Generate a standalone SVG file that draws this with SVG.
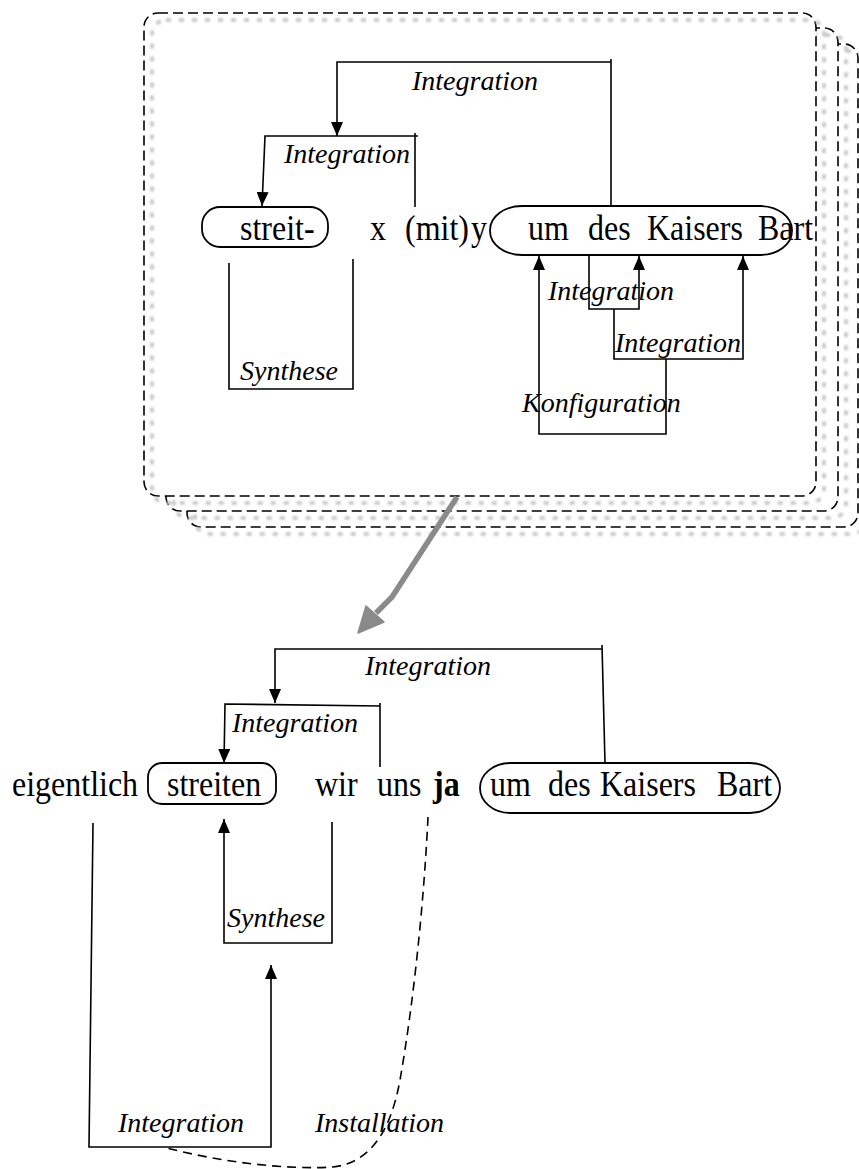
<svg xmlns="http://www.w3.org/2000/svg" width="859" height="1169" viewBox="0 0 859 1169">
<defs>
<style>
.frame{fill:#fff;stroke:#000;stroke-width:1.6;stroke-dasharray:10,5}
.shadow{fill:none;stroke:#c4c4c4;stroke-width:3.5;stroke-dasharray:5,8;filter:url(#blur)}
.ln{fill:none;stroke:#000;stroke-width:1.6}
.arr{marker-end:url(#ah)}
.box{fill:none;stroke:#000;stroke-width:1.8}
.w{font-family:"Liberation Serif","Times New Roman",serif;font-size:32px;fill:#000}
.lab{font-family:"Liberation Serif","Times New Roman",serif;font-style:italic;font-size:28px;fill:#000}
.dash{fill:none;stroke:#000;stroke-width:1.6;stroke-dasharray:9,6}
</style>
<filter id="blur" x="-5%" y="-5%" width="110%" height="110%"><feGaussianBlur stdDeviation="0.9"/></filter>
<marker id="ah" viewBox="0 0 14 12" refX="14" refY="6" markerWidth="14" markerHeight="12" markerUnits="userSpaceOnUse" orient="auto">
<path d="M0,0 L14,6 L0,12 z" fill="#000"/>
</marker>
</defs>

<g id="stack">
<rect class="frame" x="187" y="44" width="671" height="483" rx="14"/>
<rect class="shadow" x="195" y="51" width="671" height="483" rx="14"/>
<rect class="frame" x="166" y="28" width="672" height="483" rx="14"/>
<rect class="shadow" x="174" y="35" width="672" height="483" rx="14"/>
<rect class="frame" x="144" y="13" width="672" height="483" rx="14"/>
<rect class="shadow" x="152" y="20" width="672" height="483" rx="14"/>
</g>

<g id="top-row">
<g id="n-streit"><rect class="box" x="202" y="207" width="126" height="40" rx="18"/><text class="w" x="240" y="240" transform="matrix(1,0,0,1.15,0,-36)">streit-</text></g>
<g id="n-x"><text class="w" x="370" y="240" transform="matrix(1,0,0,1.15,0,-36)">x</text></g>
<g id="n-mit"><text class="w" x="405" y="240" transform="matrix(1,0,0,1.15,0,-36)">(mit)</text><text class="w" x="471" y="240" transform="matrix(1,0,0,1.15,0,-36)">y</text></g>
<g id="n-um-top"><rect class="box" x="490" y="206" width="302" height="49" rx="32" ry="24"/>
<text class="w" x="528" y="240" transform="matrix(1,0,0,1.15,0,-36)">um</text><text class="w" x="588" y="240" transform="matrix(1,0,0,1.15,0,-36)">des</text><text class="w" x="647" y="240" transform="matrix(1,0,0,1.15,0,-36)">Kaisers</text><text class="w" x="758" y="240" transform="matrix(1,0,0,1.15,0,-36)">Bart</text></g>
</g>

<g id="connectors">
<path class="ln" d="M611,207 V59"/>
<path class="ln arr" d="M611,62 H337 V136"/>
<path class="ln" d="M415,207 V133"/>
<path class="ln arr" d="M418,136 H265 L262,206"/>
<path class="ln" d="M229,263 V389 H353 V259"/>
<path class="ln arr" d="M589,255 V309 H639 V256"/>
<path class="ln arr" d="M614,309 V359 H743 V256"/>
<path class="ln arr" d="M666,359 V434 H539 V256"/>

<path d="M457,497 L392,597 L376,613" fill="none" stroke="#8a8a8a" stroke-width="5.5"/>
<path d="M358,633 L366,606 L384,622 z" fill="#8a8a8a" stroke="#8a8a8a" stroke-width="1.5" stroke-linejoin="round"/>

<path class="ln" d="M605,763 L602,645"/>
<path class="ln arr" d="M602,649 H275 V703"/>
<path class="ln" d="M380,767 V703"/>
<path class="ln arr" d="M380,706 L225,704 L224,763"/>
<path class="ln arr" d="M332,822 V943 H224 V819"/>
<path class="ln arr" d="M93,823 L89,1147 H271 V965"/>
<path class="dash" d="M428,817 C424,900 414,1000 400,1080 C390,1135 368,1163 333,1167 C285,1170 220,1162 163,1147"/>
</g>

<g id="labels">
<text class="lab" x="412" y="90">Integration</text>
<text class="lab" x="284" y="163">Integration</text>
<text class="lab" x="240" y="380">Synthese</text>
<text class="lab" x="548" y="300">Integration</text>
<text class="lab" x="615" y="352">Integration</text>
<text class="lab" x="522" y="412">Konfiguration</text>
<text class="lab" x="365" y="675">Integration</text>
<text class="lab" x="232" y="732">Integration</text>
<text class="lab" x="227" y="927">Synthese</text>
<text class="lab" x="118" y="1132">Integration</text>
<text class="lab" x="315" y="1132">Installation</text>
</g>

<g id="bottom-row">
<g id="n-eigentlich"><text class="w" x="12" y="796" transform="matrix(1,0,0,1.15,0,-119.4)">eigentlich</text></g>
<g id="n-streiten"><rect class="box" x="148" y="763" width="128" height="41" rx="14"/><text class="w" x="167" y="796" transform="matrix(1,0,0,1.15,0,-119.4)">streiten</text></g>
<g id="n-wir"><text class="w" x="315" y="796" transform="matrix(1,0,0,1.15,0,-119.4)">wir</text></g>
<g id="n-uns"><text class="w" x="377" y="796" transform="matrix(1,0,0,1.15,0,-119.4)">uns</text></g>
<g id="n-ja"><text class="w" x="433" y="796" font-weight="bold" transform="matrix(1,0,0,1.15,0,-119.4)">ja</text></g>
<g id="n-um-bottom"><rect class="box" x="480" y="763" width="300" height="50" rx="30" ry="25"/>
<text class="w" x="490" y="796" transform="matrix(1,0,0,1.15,0,-119.4)">um</text><text class="w" x="548" y="796" transform="matrix(1,0,0,1.15,0,-119.4)">des</text><text class="w" x="600" y="796" transform="matrix(1,0,0,1.15,0,-119.4)">Kaisers</text><text class="w" x="717" y="796" transform="matrix(1,0,0,1.15,0,-119.4)">Bart</text></g>
</g>
</svg>
